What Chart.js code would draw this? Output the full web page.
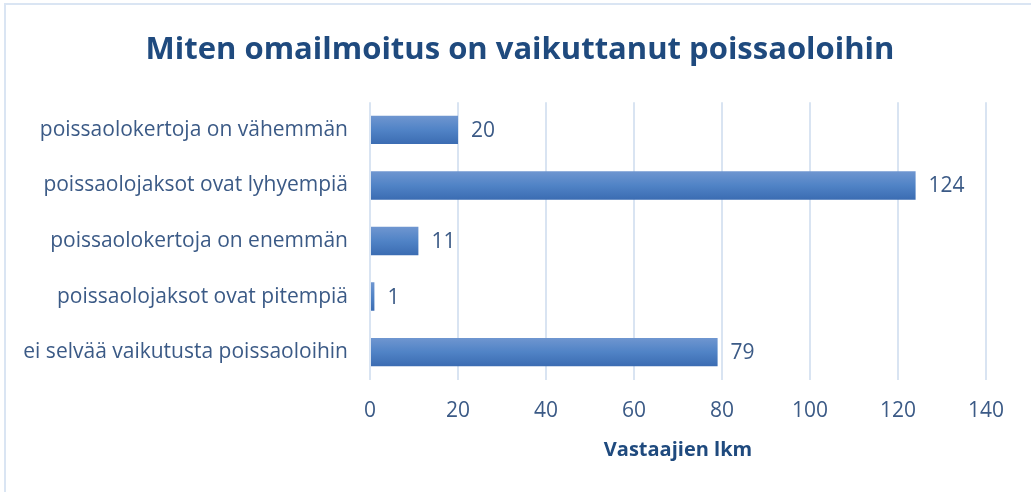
<!DOCTYPE html>
<html>
<head>
<meta charset="utf-8">
<script src="https://cdn.jsdelivr.net/npm/chart.js@4"></script>
<style>
  html, body { margin: 0; padding: 0; background: #fff; overflow: hidden; }
  #wrap { position: relative; width: 1031px; height: 492px; }
  #frame { position: absolute; left: 4px; top: 3px; width: 1060px; height: 520px;
           border: 2px solid #dae5f3; box-sizing: border-box; pointer-events: none; }
  canvas { position: absolute; left: 0; top: 0; }
</style>
</head>
<body>
<div id="wrap">
  <canvas id="chart" width="1031" height="492"></canvas>
  <div id="frame"></div>
</div>
<script>
// --- data ---
const categories = [
  'poissaolokertoja on vähemmän',
  'poissaolojaksot ovat lyhyempiä',
  'poissaolokertoja on enemmän',
  'poissaolojaksot ovat pitempiä',
  'ei selvää vaikutusta poissaoloihin'
];
const counts = [20, 124, 11, 1, 79];
const xTicks = [0, 20, 40, 60, 80, 100, 120, 140];

const titleText = 'Miten omailmoitus on vaikuttanut poissaoloihin';
const axisTitle = 'Vastaajien lkm';

const FONT = '"Open Sans", sans-serif';
const textColor = '#3b5a86';
const BAR_PCT = 0.51;

// gradient per bar (lighter on top, darker at bottom)
function barFill(ctx) {
  const chart = ctx.chart;
  const y = chart.scales && chart.scales.y;
  if (!y || !chart.chartArea) return '#4f80c4';
  const center = y.getPixelForValue(ctx.dataIndex);
  const half = (chart.chartArea.height / categories.length) * BAR_PCT / 2;
  const g = chart.ctx.createLinearGradient(0, center - half, 0, center + half);
  g.addColorStop(0, '#6f96d0');
  g.addColorStop(0.5, '#5083c6');
  g.addColorStop(1, '#3b6cb2');
  return g;
}

// value labels at bar ends
const valueLabels = {
  id: 'valueLabels',
  afterDatasetsDraw(chart) {
    const ctx = chart.ctx;
    const meta = chart.getDatasetMeta(0);
    ctx.save();
    ctx.font = '21px ' + FONT;
    ctx.fillStyle = textColor;
    ctx.textAlign = 'left';
    ctx.textBaseline = 'middle';
    meta.data.forEach((bar, i) => {
      ctx.fillText(String(counts[i]), bar.x + 13, bar.y + 1);
    });
    ctx.restore();
  }
};

new Chart(document.getElementById('chart').getContext('2d'), {
  type: 'bar',
  data: {
    labels: categories,
    datasets: [{
      data: counts,
      backgroundColor: barFill,
      borderWidth: 0,
      barPercentage: BAR_PCT,
      categoryPercentage: 1.0
    }]
  },
  options: {
    indexAxis: 'y',
    responsive: false,
    animation: false,
    layout: { padding: { left: 12, right: 3, top: 16, bottom: 30 } },
    plugins: {
      legend: { display: false },
      tooltip: { enabled: false },
      title: {
        display: true,
        text: titleText,
        color: '#1f4a7e',
        font: { family: FONT, size: 31, weight: 'bold' },
        padding: { top: 16, bottom: 33 }
      }
    },
    scales: {
      x: {
        min: 0,
        max: 140,
        afterBuildTicks(axis) { axis.ticks = xTicks.map(v => ({ value: v })); },
        afterFit(scale) { scale.paddingRight = 45; },
        grid: { color: '#d9e4f2', lineWidth: 2, drawTicks: false },
        border: { display: false },
        ticks: {
          color: textColor,
          padding: 19,
          font: { family: FONT, size: 21 }
        },
        title: {
          display: true,
          text: axisTitle,
          color: '#1f4a7e',
          font: { family: FONT, size: 20, weight: 'bold' },
          padding: { top: -5, bottom: 0 }
        }
      },
      y: {
        afterFit(scale) { scale.width = 358; },
        grid: { display: false },
        border: { display: false },
        ticks: {
          color: textColor,
          padding: 14,
          font: { family: FONT, size: 21 }
        }
      }
    }
  },
  plugins: [valueLabels]
});
</script>
</body>
</html>
